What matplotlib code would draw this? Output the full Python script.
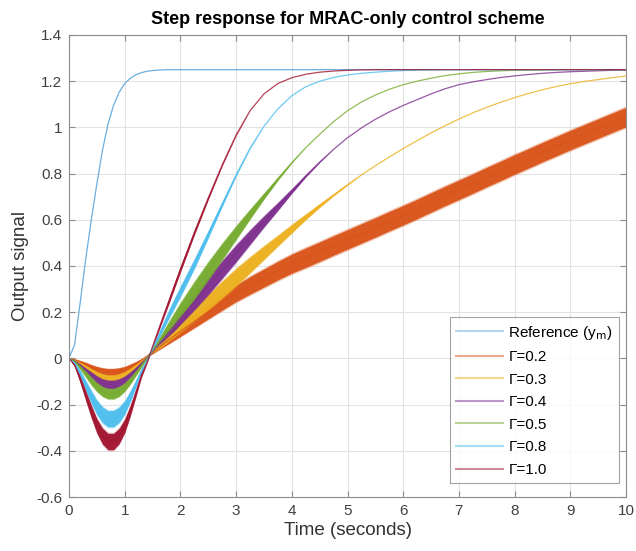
import numpy as np
import matplotlib
matplotlib.use("Agg")
import matplotlib.pyplot as plt

plt.rcParams['font.family'] = ['Liberation Sans', 'DejaVu Sans']

# time samples: 0..2 s every 0.1 s, then every 0.25 s up to 10 s
t = np.concatenate([np.arange(21) * 0.1, 2 + np.arange(1, 33) * 0.25])

ref_ym = [0, 0.06, 0.24, 0.43, 0.6, 0.755, 0.9, 1.015, 1.095, 1.152, 1.19,
          1.212, 1.228, 1.237, 1.243, 1.246, 1.248, 1.249, 1.25, 1.25, 1.25] + [1.25] * 32

gamma_labels = ['Γ=0.2', 'Γ=0.3', 'Γ=0.4', 'Γ=0.5', 'Γ=0.8', 'Γ=1.0']

y_g02 = [0, -0.005, -0.015, -0.026, -0.038, -0.048, -0.055, -0.059, -0.059, -0.055, -0.048,
         -0.036, -0.022, -0.007, 0.01, 0.025, 0.044, 0.063, 0.081, 0.099, 0.117,
         0.16, 0.202, 0.243, 0.282, 0.316, 0.348, 0.38, 0.41, 0.436, 0.462, 0.489, 0.515,
         0.541, 0.567, 0.594, 0.62, 0.647, 0.675, 0.703, 0.73, 0.757, 0.785, 0.812, 0.84,
         0.866, 0.893, 0.919, 0.945, 0.97, 0.995, 1.02, 1.045]
y_g03 = [0, -0.007, -0.022, -0.039, -0.055, -0.07, -0.081, -0.087, -0.087, -0.081, -0.07,
         -0.053, -0.034, -0.014, 0.007, 0.027, 0.048, 0.07, 0.092, 0.114, 0.136,
         0.19, 0.244, 0.298, 0.352, 0.405, 0.458, 0.51, 0.562, 0.613, 0.662, 0.708, 0.752,
         0.794, 0.834, 0.872, 0.908, 0.943, 0.976, 1.007, 1.036, 1.063, 1.087, 1.109, 1.129,
         1.147, 1.163, 1.177, 1.189, 1.199, 1.207, 1.215, 1.222]
y_g04 = [0, -0.009, -0.029, -0.051, -0.072, -0.092, -0.106, -0.113, -0.113, -0.106, -0.092,
         -0.071, -0.047, -0.022, 0.004, 0.03, 0.058, 0.087, 0.116, 0.145, 0.175,
         0.245, 0.315, 0.385, 0.455, 0.525, 0.593, 0.658, 0.725, 0.79, 0.85, 0.905, 0.955,
         0.998, 1.035, 1.067, 1.095, 1.12, 1.145, 1.167, 1.185, 1.197, 1.207, 1.216, 1.223,
         1.229, 1.234, 1.238, 1.241, 1.243, 1.245, 1.247, 1.248]
y_g05 = [0, -0.012, -0.039, -0.068, -0.098, -0.124, -0.143, -0.153, -0.153, -0.143, -0.124,
         -0.096, -0.064, -0.031, 0.002, 0.035, 0.07, 0.105, 0.14, 0.175, 0.21,
         0.295, 0.38, 0.463, 0.545, 0.625, 0.703, 0.778, 0.848, 0.912, 0.97, 1.025, 1.072,
         1.11, 1.14, 1.165, 1.185, 1.2, 1.213, 1.224, 1.232, 1.238, 1.242, 1.245, 1.247,
         1.248, 1.249, 1.25, 1.25, 1.25, 1.25, 1.25, 1.25]
y_g08 = [0, -0.021, -0.066, -0.117, -0.167, -0.212, -0.244, -0.261, -0.261, -0.244, -0.212,
         -0.164, -0.109, -0.053, -0.008, 0.042, 0.093, 0.145, 0.195, 0.243, 0.29,
         0.41, 0.538, 0.668, 0.795, 0.91, 1.005, 1.08, 1.137, 1.176, 1.2, 1.216, 1.227,
         1.234, 1.239, 1.243, 1.246, 1.248, 1.249] + [1.25] * 14
y_g10 = [0, -0.029, -0.091, -0.161, -0.23, -0.292, -0.336, -0.36, -0.36, -0.336, -0.292,
         -0.226, -0.15, -0.073, -0.018, 0.052, 0.12, 0.187, 0.253, 0.32, 0.386,
         0.545, 0.695, 0.838, 0.967, 1.072, 1.145, 1.19, 1.215, 1.23, 1.239, 1.244, 1.247,
         1.249] + [1.25] * 19

# half thickness of the high-frequency oscillation band around each response
hw_g02 = [0, 0.003, 0.006, 0.009, 0.011, 0.013, 0.014, 0.015, 0.015, 0.014, 0.013,
          0.011, 0.008, 0.005, 0.003, 0.005, 0.009, 0.013, 0.016, 0.019, 0.022,
          0.027, 0.031, 0.034, 0.036, 0.038, 0.039, 0.04, 0.041] + [0.042] * 24
hw_g03 = [0, 0.003, 0.006, 0.009, 0.011, 0.013, 0.014, 0.015, 0.015, 0.014, 0.013,
          0.011, 0.008, 0.005, 0.003, 0.004, 0.009, 0.013, 0.016, 0.019, 0.022,
          0.028, 0.033, 0.036, 0.037, 0.034, 0.029, 0.023, 0.018, 0.012, 0.008, 0.004, 0.002] + [0] * 20
hw_g04 = [0, 0.003, 0.007, 0.011, 0.014, 0.016, 0.017, 0.018, 0.018, 0.017, 0.015,
          0.012, 0.009, 0.006, 0.003, 0.005, 0.01, 0.016, 0.02, 0.024, 0.027,
          0.034, 0.038, 0.038, 0.036, 0.031, 0.024, 0.017, 0.01, 0.005, 0.002] + [0] * 22
hw_g05 = [0, 0.004, 0.009, 0.013, 0.017, 0.019, 0.021, 0.022, 0.022, 0.021, 0.018,
          0.015, 0.011, 0.007, 0.003, 0.005, 0.011, 0.017, 0.023, 0.027, 0.031,
          0.037, 0.038, 0.035, 0.029, 0.021, 0.013, 0.007, 0.002] + [0] * 24
hw_g08 = [0, 0.006, 0.014, 0.021, 0.027, 0.031, 0.034, 0.035, 0.035, 0.033, 0.029,
          0.023, 0.016, 0.009, 0.003, 0.006, 0.011, 0.016, 0.019, 0.021, 0.022,
          0.021, 0.016, 0.01, 0.005, 0.002] + [0] * 27
hw_g10 = [0, 0.006, 0.014, 0.021, 0.027, 0.031, 0.034, 0.035, 0.035, 0.033, 0.029,
          0.023, 0.016, 0.009, 0.003, 0.005, 0.008, 0.01, 0.012, 0.012, 0.012,
          0.01, 0.007, 0.004, 0.002] + [0] * 28

responses = [y_g02, y_g03, y_g04, y_g05, y_g08, y_g10]
bands = [hw_g02, hw_g03, hw_g04, hw_g05, hw_g08, hw_g10]
colors = ['#D95319', '#EDB120', '#7E2F8E', '#77AC30', '#4DBEEE', '#A2142F']

fig = plt.figure(figsize=(6.36, 5.51), dpi=100)
ax = fig.add_axes([0.1085, 0.098, 0.8758, 0.8385])

ax.plot(t, ref_ym, color='#6AAEE0', lw=0.9, label='Reference (y$_{\\mathrm{m}}$)')
for y, hw, c, lab in zip(responses, bands, colors, gamma_labels):
    y = np.array(y)
    hw = np.array(hw)
    # soft fringe of the oscillation, then its solid core
    ax.fill_between(t, y - 1.15 * hw, y + 1.15 * hw, color=c, lw=0, alpha=0.35)
    ax.fill_between(t, y - hw, y + hw, color=c, lw=0, alpha=0.95)
    ax.plot(t, y, color=c, lw=0.9, alpha=0.8, label=lab)

ax.set_xlim(0, 10)
ax.set_ylim(-0.6, 1.4)
ax.set_xticks(np.arange(0, 11, 1))
ax.set_yticks(np.round(np.arange(-0.6, 1.41, 0.2), 1))
ax.set_yticklabels(['-0.6', '-0.4', '-0.2', '0', '0.2', '0.4', '0.6', '0.8', '1', '1.2', '1.4'])
ax.grid(True, color='#E3E3E3', lw=0.8)
ax.set_axisbelow(True)
for s in ax.spines.values():
    s.set_color('#8C8C8C')
    s.set_linewidth(0.8)
ax.tick_params(direction='in', top=True, right=True, length=4, width=0.8,
               color='#8C8C8C', labelsize=11, labelcolor='#404040', pad=5)

ax.set_title('Step response for MRAC-only control scheme', fontsize=13,
             fontweight='bold', pad=8)
ax.set_xlabel('Time (seconds)', fontsize=13.5, color='#333333', labelpad=3)
ax.set_ylabel('Output signal', fontsize=13.5, color='#333333', labelpad=5)

leg = ax.legend(loc='lower right', bbox_to_anchor=(0.9874, 0.0303), fontsize=11,
                frameon=True, fancybox=False, edgecolor='#8C8C8C',
                handlelength=3.1, handletextpad=0.35, labelspacing=0.56,
                borderpad=0.4, borderaxespad=0)
leg.get_frame().set_linewidth(0.8)
for h in leg.get_lines():
    h.set_alpha(0.5)
    h.set_linewidth(1.5)

fig.savefig('out.png', dpi=100)
